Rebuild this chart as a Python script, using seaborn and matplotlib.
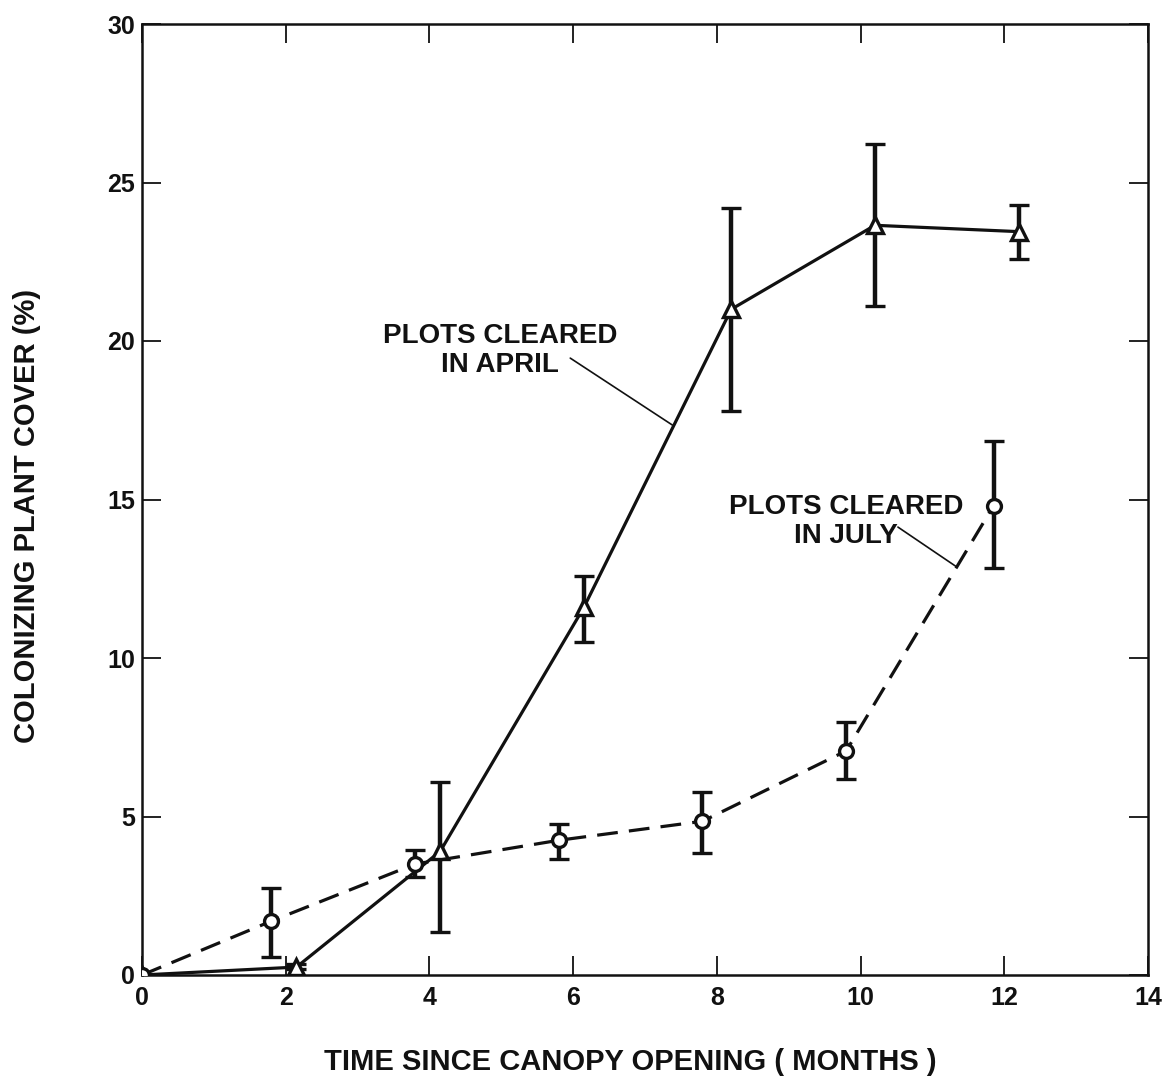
import matplotlib
matplotlib.use("Agg")
import matplotlib.pyplot as plt
import seaborn as sns
import numpy as np
import pandas as pd

# ---- data ----
april_x = [0.0, 2.15, 4.15, 6.15, 8.2, 10.2, 12.2]
april_y = [0.0, 0.25, 3.9, 11.6, 21.0, 23.65, 23.45]
april_lo = [0.0, 0.2, 1.35, 10.5, 17.8, 21.1, 22.6]
april_hi = [0.0, 0.35, 6.1, 12.6, 24.2, 26.2, 24.3]

july_x = [0.0, 1.8, 3.8, 5.8, 7.8, 9.8, 11.85]
july_y = [0.0, 1.7, 3.5, 4.25, 4.85, 7.07, 14.8]
july_lo = [0.0, 0.57, 3.09, 3.66, 3.85, 6.18, 12.85]
july_hi = [0.0, 2.75, 3.94, 4.76, 5.77, 7.98, 16.84]

x_ticks = [0, 2, 4, 6, 8, 10, 12, 14]
y_ticks = [0, 5, 10, 15, 20, 25, 30]

x_label = "TIME SINCE CANOPY OPENING ( MONTHS )"
y_label = "COLONIZING PLANT COVER (%)"
april_text = "PLOTS CLEARED\nIN APRIL"
july_text = "PLOTS CLEARED\nIN JULY"

sns.set_style("ticks")
fam = ["Liberation Sans Narrow", "Liberation Sans", "DejaVu Sans"]
plt.rcParams["font.family"] = fam
plt.rcParams["font.weight"] = "bold"

fig = plt.figure(figsize=(11.62, 10.78), dpi=100)
ax = fig.add_axes([142/1162, 1-975/1078, (1148-142)/1162, (975-24)/1078])

df_a = pd.DataFrame({"x": april_x, "y": april_y})
df_j = pd.DataFrame({"x": july_x, "y": july_y})

# error bars
for xs, ys, lo, hi in [(april_x, april_y, april_lo, april_hi),
                       (july_x, july_y, july_lo, july_hi)]:
    ys = np.array(ys); lo = np.array(lo); hi = np.array(hi)
    ax.errorbar(xs, ys, yerr=[ys - lo, hi - ys], fmt="none", ecolor="#111111",
                elinewidth=3.2, capsize=7, capthick=2.4, zorder=2)

sns.lineplot(data=df_a, x="x", y="y", ax=ax, color="#111111", lw=2.3,
             marker="^", markersize=11, markerfacecolor="white",
             markeredgecolor="#111111", markeredgewidth=2.4, zorder=3)
sns.lineplot(data=df_j, x="x", y="y", ax=ax, color="#111111", lw=2.3,
             dashes=False, marker="o", markersize=10, markerfacecolor="white",
             markeredgecolor="#111111", markeredgewidth=2.4, zorder=3)
ax.lines[-1].set_dashes((6.5, 3.5))

ax.set_xlim(0, 14)
ax.set_ylim(0, 30)
ax.set_xticks(x_ticks)
ax.set_yticks(y_ticks)
ax.set_xticklabels([str(t) for t in x_ticks], fontsize=18, fontweight="bold")
ax.set_yticklabels([str(t) for t in y_ticks], fontsize=18, fontweight="bold")
ax.tick_params(direction="in", length=14, width=1.3, top=True, right=True,
               colors="#111111")
ax.tick_params(axis="x", pad=8)
ax.tick_params(axis="y", pad=5)
for s in ax.spines.values():
    s.set_linewidth(1.8)
    s.set_color("#111111")

ax.set_xlabel(x_label, fontsize=21, fontweight="bold", color="#111111")
ax.set_ylabel(y_label, fontsize=21, fontweight="bold", color="#111111")
ax.xaxis.set_label_coords(0.485, -0.091)
ax.yaxis.set_label_coords(-0.114, 0.483)
ax.xaxis.label.set_va("center")
ax.yaxis.label.set_va("center")

ax.text(4.98, 19.7, april_text, ha="center", va="center", fontsize=20,
        fontweight="bold", color="#111111", linespacing=1.15)
ax.text(9.8, 14.3, july_text, ha="center", va="center", fontsize=20,
        fontweight="bold", color="#111111", linespacing=1.15)
# leader lines
ax.plot([5.96, 7.38], [19.46, 17.35], color="#111111", lw=1.2, zorder=1)
ax.plot([10.52, 11.34], [14.13, 12.87], color="#111111", lw=1.2, zorder=1)

fig.savefig("out.png", dpi=100, facecolor="white")
